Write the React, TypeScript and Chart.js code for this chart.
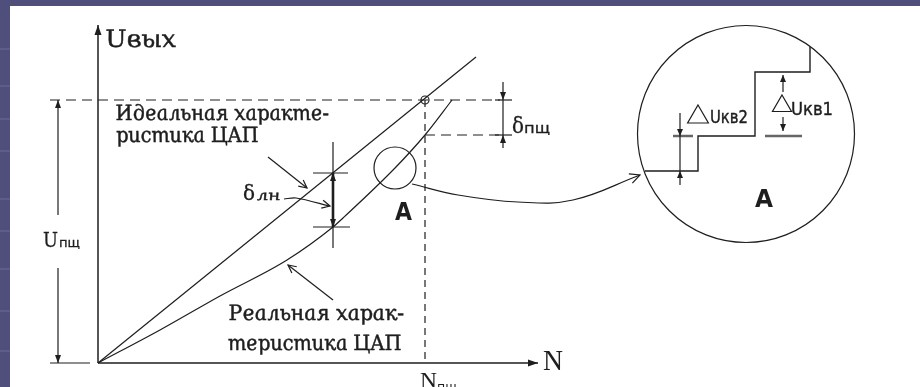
import React, { useEffect, useRef } from "react";
import { Chart, registerables } from "chart.js";
Chart.register(...registerables);

// ---- coordinate frame (N along x, U along y, origin at the axes' origin) ----
const X_RANGE = [-98, 822];
const Y_RANGE = [-24, 363];

// axes
const axisNx = [0, 440];
const axisNy = [0, 0];
const axisUx = [0, 0];
const axisUy = [0, 338];

// ideal DAC characteristic
const idealN = [0, 378];
const idealU = [0, 306];

// real DAC characteristic
const realN = [0, 62, 122, 189, 235, 245, 297, 327, 354];
const realU = [0, 33, 67, 103, 136, 145, 195, 228, 263];

// full-scale values
const N_FS = 327;
const U_FS = 263;
const U_REAL_FS = 228;

// linearity error marker position
const DLN_N = 235;
const DLN_IDEAL = 190;
const DLN_REAL = 136;

// zoomed region "A": quantisation staircase
const stairN = [547, 600, 600, 657, 657, 712, 712];
const stairU = [192, 192, 227, 227, 291, 291, 316];

// curved pointer from region A to the zoom circle
const pointerN = [314, 360, 420, 475, 542];
const pointerU = [179, 168, 161, 163, 188];

const INK = "#1e1e1e";

type P = { x: number; y: number };
const pts = (xs: number[], ys: number[]): P[] => xs.map((x, i) => ({ x, y: ys[i] }));

function seg(xs: number[], ys: number[], extra: any = {}) {
  return {
    data: pts(xs, ys),
    showLine: true,
    pointRadius: 0,
    pointHoverRadius: 0,
    borderColor: INK,
    borderWidth: 1.2,
    fill: false,
    tension: 0,
    clip: false,
    ...extra,
  };
}
function ring(x: number, y: number, r: number, style: string = "circle") {
  return {
    data: [{ x, y }],
    showLine: false,
    pointRadius: r,
    pointHoverRadius: r,
    pointStyle: style,
    pointBorderColor: INK,
    pointBorderWidth: 1.2,
    pointBackgroundColor: "rgba(0,0,0,0)",
    clip: false,
  };
}

const SERIF_IT = 'italic 21px "DejaVu Serif"';

const LABELS = [
  { text: "Uвых", n: 9, u: 316, font: 'italic 24px "DejaVu Serif"', w: 70, upright: true, bold: 0.5 },
  { text: "Идеальная характе-", n: 19, u: 243, font: SERIF_IT, w: 213, upright: true, bold: 0.5 },
  { text: "ристика ЦАП", n: 19, u: 221, font: SERIF_IT, w: 143, upright: true, bold: 0.5 },
  { text: "Реальная харак-", n: 132, u: 43, font: SERIF_IT, w: 175, upright: true, bold: 0.5 },
  { text: "теристика ЦАП", n: 131, u: 13, font: SERIF_IT, w: 174, upright: true, bold: 0.5 },
  { text: "U", n: -55, u: 116, font: '21px "DejaVu Serif"', w: 15, bold: 0.3 },
  { text: "пщ", n: -39, u: 116, font: '13px "DejaVu Sans"', w: 21, bold: 0.3 },
  { text: "N", n: 445, u: -7, font: '30px "Liberation Serif"', w: 20 },
  { text: "N", n: 322, u: -25, font: '24px "Liberation Serif"', w: 17 },
  { text: "пщ", n: 339, u: -28, font: '13px "DejaVu Sans"', w: 20 },
  { text: "δ", n: 414, u: 230, font: '23px "DejaVu Serif"', w: 12, bold: 0.3 },
  { text: "пщ", n: 426, u: 230, font: '14px "DejaVu Sans"', w: 26, bold: 0.3 },
  { text: "δ", n: 145, u: 163, font: '21px "DejaVu Serif"', w: 12, bold: 0.3 },
  { text: "лн", n: 159, u: 163, font: 'italic 14px "DejaVu Serif"', w: 24, upright: true, bold: 0.4 },
  { text: "A", n: 297, u: 143, font: 'bold 24px "DejaVu Sans"', w: 17 },
  { text: "A", n: 657, u: 156, font: 'bold 24px "DejaVu Sans"', w: 18 },
  { text: "Uкв2", n: 612, u: 240, font: '17px "DejaVu Sans"', w: 38, bold: 0.4 },
  { text: "Uкв1", n: 693, u: 248, font: '17px "DejaVu Sans"', w: 42, bold: 0.4 },
];

const STRIPES = [48, 85, 118, 150, 198, 230, 268, 310, 350];

const bgPlugin = {
  id: "bg",
  beforeDraw(chart: any) {
    const { ctx, width, height } = chart;
    ctx.save();
    ctx.fillStyle = "#504f7c";
    ctx.fillRect(0, 0, width, height);
    ctx.fillStyle = "#5e5d8a";
    for (const s of STRIPES) ctx.fillRect(0, s, 10, 2);
    ctx.fillStyle = "#ffffff";
    ctx.fillRect(10, 6, width - 10, height - 6);
    ctx.restore();
  },
};

const arrowPlugin = {
  id: "arrowHeads",
  afterDatasetsDraw(chart: any) {
    const ctx = chart.ctx;
    chart.data.datasets.forEach((ds: any, i: number) => {
      if (!ds.arrow) return;
      const els = chart.getDatasetMeta(i).data as any[];
      const n = els.length;
      const p = els[n - 1];
      let qx = els[n - 2].x;
      let qy = els[n - 2].y;
      if ((ds.tension || ds.cubicInterpolationMode) && p.cp1x != null) {
        qx = p.cp1x;
        qy = p.cp1y;
      }
      const ang = Math.atan2(p.y - qy, p.x - qx);
      const L = ds.arrowLen ?? 8;
      const W = ds.arrowHalf ?? 3;
      ctx.save();
      ctx.translate(p.x, p.y);
      ctx.rotate(ang);
      ctx.strokeStyle = INK;
      ctx.fillStyle = INK;
      ctx.lineWidth = 1.2;
      ctx.beginPath();
      if (ds.arrow === "open") {
        ctx.moveTo(-L, -W);
        ctx.lineTo(0, 0);
        ctx.lineTo(-L, W);
        ctx.stroke();
      } else {
        ctx.moveTo(0, 0);
        ctx.lineTo(-L, -W);
        ctx.lineTo(-L, W);
        ctx.closePath();
        ctx.fill();
      }
      ctx.restore();
    });
  },
};

const textPlugin = {
  id: "texts",
  afterDatasetsDraw(chart: any) {
    const { ctx } = chart;
    const sx = chart.scales.x;
    const sy = chart.scales.y;
    for (const l of LABELS as any[]) {
      const px = sx.getPixelForValue(l.n);
      const py = sy.getPixelForValue(l.u);
      ctx.save();
      ctx.font = l.font;
      ctx.fillStyle = INK;
      ctx.strokeStyle = INK;
      ctx.textAlign = "left";
      ctx.textBaseline = "alphabetic";
      const m = ctx.measureText(l.text).width || 1;
      ctx.translate(px, py);
      if (l.upright) ctx.transform(1, 0, 0.19, 1, 0, 0);
      ctx.scale(l.w / m, 1);
      ctx.fillText(l.text, 0, 0);
      if (l.bold) {
        ctx.lineWidth = l.bold;
        ctx.strokeText(l.text, 0, 0);
      }
      ctx.restore();
    }
  },
};

export default function App() {
  const ref = useRef<HTMLCanvasElement | null>(null);
  useEffect(() => {
    document.body.style.margin = "0";
    const canvas = ref.current;
    if (!canvas) return;
    const datasets: any[] = [
      // axes
      seg(axisUx, axisUy, { borderWidth: 1.5, arrow: "filled", arrowLen: 10, arrowHalf: 3.5 }),
      seg(axisNx, axisNy, { borderWidth: 1.5, arrow: "filled", arrowLen: 10, arrowHalf: 3.5 }),
      // characteristics
      seg(idealN, idealU),
      seg(realN, realU, { cubicInterpolationMode: "monotone" }),
      // full-scale dashed guides
      seg([-48, 402], [U_FS, U_FS], { borderDash: [10, 6] }),
      seg([N_FS, 402], [U_REAL_FS, U_REAL_FS], { borderDash: [10, 6] }),
      seg([N_FS, N_FS], [U_FS, 0], { borderDash: [7, 5] }),
      ring(N_FS, U_FS, 4),
      // δпщ dimension
      seg([405, 405], [281, U_FS], { arrow: "filled" }),
      seg([405, 405], [U_FS, U_REAL_FS]),
      seg([405, 405], [215, U_REAL_FS], { arrow: "filled" }),
      seg([397, 414], [U_FS, U_FS]),
      seg([397, 414], [U_REAL_FS, U_REAL_FS]),
      // δлн dimension
      seg([DLN_N, DLN_N], [115, 221]),
      seg([DLN_N, DLN_N], [163, DLN_IDEAL], { borderWidth: 2.6, arrow: "filled" }),
      seg([DLN_N, DLN_N], [163, DLN_REAL], { borderWidth: 2.6, arrow: "filled" }),
      seg([215, 250], [DLN_IDEAL, DLN_IDEAL]),
      seg([215, 252], [DLN_REAL, DLN_REAL]),
      // Uпщ dimension
      seg([-40, -40], [148, U_FS], { arrow: "filled" }),
      seg([-40, -40], [95, 0], { arrow: "filled" }),
      seg([-48, -8], [0, 0]),
      // region A and pointer
      ring(297, 195, 21),
      seg(pointerN, pointerU, { tension: 0.4, arrow: "open", arrowLen: 10, arrowHalf: 5 }),
      ring(648, 229, 108.5),
      seg(stairN, stairU, { borderWidth: 1.4 }),
      // ΔUкв2
      seg([582, 582], [250, 227], { arrow: "filled", arrowLen: 7 }),
      seg([582, 582], [227, 192]),
      seg([582, 582], [178, 192], { arrow: "filled", arrowLen: 7 }),
      seg([575, 595], [227, 227], { borderWidth: 2.5, borderColor: "#666" }),
      // ΔUкв1
      seg([685, 685], [271, 288], { arrow: "filled", arrowLen: 7 }),
      seg([685, 685], [246, 232], { arrow: "filled", arrowLen: 7 }),
      seg([667, 704], [227, 227], { borderWidth: 2.5, borderColor: "#666" }),
      ring(600, 246, 12, "triangle"),
      ring(684, 257, 11, "triangle"),
      // leader arrows
      seg([170, 209], [206, 175], { arrow: "open", arrowLen: 8, arrowHalf: 4 }),
      seg([235, 190], [63, 98], { arrow: "open", arrowLen: 8, arrowHalf: 4 }),
      seg([186, 198, 232], [164, 165, 157], { tension: 0.3, arrow: "open", arrowLen: 8, arrowHalf: 4 }),
    ];
    const chart = new Chart(canvas, {
      type: "scatter",
      data: { datasets },
      options: {
        responsive: false,
        maintainAspectRatio: false,
        animation: false,
        events: [],
        layout: { padding: 0, autoPadding: false },
        plugins: { legend: { display: false }, tooltip: { enabled: false }, title: { display: false } },
        scales: {
          x: { type: "linear", min: X_RANGE[0], max: X_RANGE[1], display: false },
          y: { type: "linear", min: Y_RANGE[0], max: Y_RANGE[1], display: false },
        },
      } as any,
      plugins: [bgPlugin, arrowPlugin, textPlugin],
    });
    return () => chart.destroy();
  }, []);
  return (
    <div style={{ width: 920, height: 387 }}>
      <canvas ref={ref} width={920} height={387} style={{ display: "block" }} />
    </div>
  );
}
